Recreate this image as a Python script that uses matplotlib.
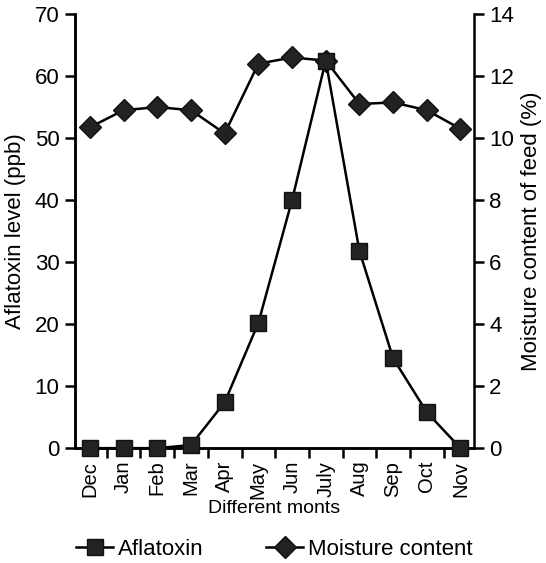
import matplotlib.pyplot as plt
import numpy as np

plt.rcParams['font.family'] = ['Liberation Sans', 'DejaVu Sans']

months = ["Dec", "Jan", "Feb", "Mar", "Apr", "May", "Jun", "July", "Aug", "Sep", "Oct", "Nov"]
aflatoxin = [0, 0, 0, 0.5, 7.4, 20.2, 40, 62.5, 31.8, 14.5, 5.8, 0]
moisture = [10.35, 10.9, 11.0, 10.9, 10.15, 12.4, 12.6, 12.5, 11.1, 11.15, 10.9, 10.3]

x = np.arange(len(months))

fig = plt.figure(figsize=(5.46, 5.63), dpi=100)
ax = fig.add_axes([0.137, 0.204, 0.731, 0.771])
ax2 = ax.twinx()

ax.plot(x, aflatoxin, color="black", lw=1.8, marker="s", ms=12,
        mfc="#222222", mec="#111111", mew=1, label="Aflatoxin", zorder=3,
        clip_on=False)
ax2.plot(x, moisture, color="black", lw=1.8, marker="D", ms=11,
         mfc="#222222", mec="#111111", mew=1, label="Moisture content",
         clip_on=False)
ax.set_zorder(ax2.get_zorder() + 1)
ax.patch.set_visible(False)

ax.set_xlim(-0.45, 11.4)
ax.set_ylim(0, 70)
ax2.set_ylim(0, 14)
ax.set_yticks(range(0, 71, 10))
ax2.set_yticks(range(0, 15, 2))

ax.set_xticks(x)
ax.set_xticklabels(months, rotation=90, fontsize=14.5)
ax.set_xticks(np.arange(0.5, 11.5, 1), minor=True)
ax.tick_params(axis="x", which="major", length=0, pad=9)
ax.tick_params(axis="x", which="minor", length=7, width=1.8, direction="out")
ax.tick_params(axis="y", labelsize=16, length=7, width=1.8, direction="out", pad=4)
ax2.tick_params(axis="y", labelsize=16, length=7, width=1.8, direction="out", pad=4)

for a in (ax, ax2):
    a.spines["top"].set_visible(False)
    for s in ("left", "right", "bottom"):
        a.spines[s].set_linewidth(1.8)
ax.spines["right"].set_visible(False)

ax.set_ylabel("Aflatoxin level (ppb)", fontsize=16, labelpad=6)
ax2.set_ylabel("Moisture content of feed (%)", fontsize=16, labelpad=5)
ax.set_xlabel("Different monts", fontsize=14, labelpad=1)

h1, l1 = ax.get_legend_handles_labels()
h2, l2 = ax2.get_legend_handles_labels()
fig.legend(h1 + h2, l1 + l2, loc="lower center", bbox_to_anchor=(0.502, -0.03),
           ncol=2, frameon=False, fontsize=16, handlelength=1.7,
           handletextpad=0.2, columnspacing=2.8)

fig.savefig("out.png", dpi=100)
